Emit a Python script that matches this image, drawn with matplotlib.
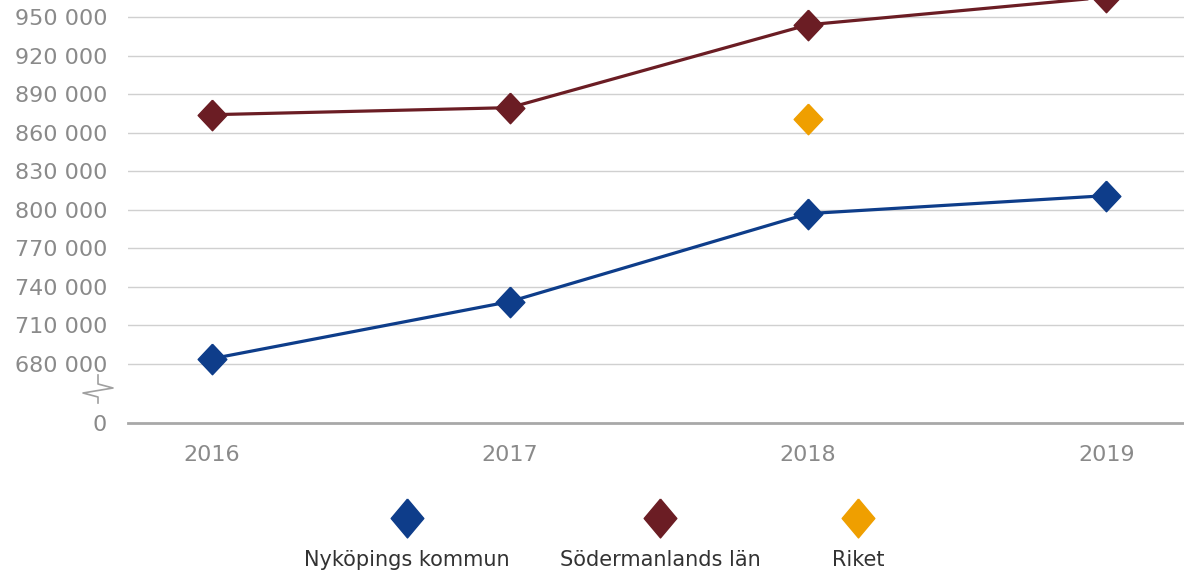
import numpy as np
import matplotlib
matplotlib.use("Agg")
import matplotlib.pyplot as plt
from matplotlib.lines import Line2D

years = ["2016", "2017", "2018", "2019"]
nykoping = [684000, 728500, 797000, 811000]
sodermanland = [874000, 879500, 944000, 965500]
riket_years = ["2018"]
riket = [871000]
series_names = ["Nyköpings kommun", "Södermanlands län", "Riket"]
colors = ["#0e3d8a", "#6b1d24", "#ef9f00"]

# y-axis is broken: "0" is drawn a bit below 680 000
zero_pos = 634000
grid_vals = np.arange(680000, 950001, 30000)

def fmt(v):
    return f"{v:,}".replace(",", " ")

W, H = 1184, 581
fig = plt.figure(figsize=(W / 100, H / 100), dpi=100)
ax = fig.add_axes([128 / W, 1 - 423 / H, 1 - 128 / W, 423 / H])

diamond = [(0, 0.5), (0.47, 0), (0, -0.5), (-0.47, 0), (0, 0.5)]

x = np.arange(len(years))
ax.plot(x, nykoping, color=colors[0], lw=2.3, marker=diamond, ms=22, zorder=3)
ax.plot(x, sodermanland, color=colors[1], lw=2.3, marker=diamond, ms=22, zorder=3)
rx = [years.index(y) for y in riket_years]
ax.plot(rx, riket, color=colors[2], lw=0, marker=diamond, ms=22, zorder=3)

for g in grid_vals:
    ax.axhline(g, color="#d0d0d0", lw=1, zorder=1)

ax.set_xlim(-0.28, 3.26)
ax.set_ylim(zero_pos, 963300)
ax.set_xticks(x)
ax.set_xticklabels(years)
ax.set_yticks([zero_pos] + list(grid_vals))
ax.set_yticklabels(["0"] + [fmt(v) for v in grid_vals])
ax.tick_params(axis="both", length=0, colors="#8a8a8a", labelsize=16)
ax.tick_params(axis="y", pad=15)
ax.tick_params(axis="x", pad=16)

for s in ["top", "right", "left"]:
    ax.spines[s].set_visible(False)
ax.spines["bottom"].set_color("#a8a8a8")
ax.spines["bottom"].set_linewidth(2)

# break symbol on the y axis
bx = np.array([98, 98, 113, 83, 98, 98]) / W
by = 1 - np.array([375, 384, 388, 393, 397, 403]) / H
fig.add_artist(Line2D(bx, by, color="#a0a0a0", lw=1.2, transform=fig.transFigure))

# legend: marker above label
leg_x = [407, 660, 858]
for name, c, lx in zip(series_names, colors, leg_x):
    fig.add_artist(Line2D([lx / W], [1 - 518 / H], marker=[(0, 0.5), (0.42, 0), (0, -0.5), (-0.42, 0), (0, 0.5)],
                          ms=28, color=c, lw=0, transform=fig.transFigure))
    fig.text(lx / W, 1 - 560 / H, name, ha="center", va="center", fontsize=15, color="#333333")

fig.savefig("out.png", dpi=100)
